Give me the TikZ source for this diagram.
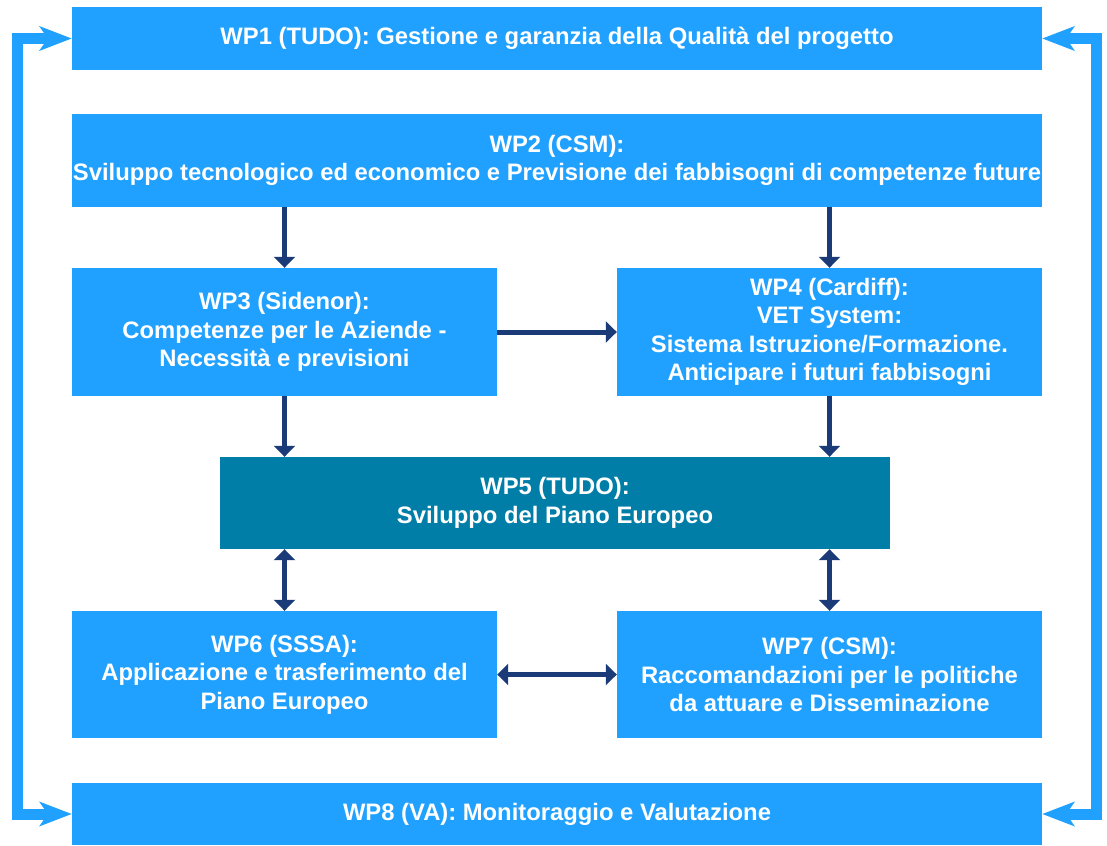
\documentclass[tikz,border=0pt]{standalone}
\usepackage{fontspec}
\setmainfont{Liberation Sans}
\usetikzlibrary{arrows.meta}
\definecolor{wpblue}{RGB}{33,161,255}
\definecolor{wpteal}{RGB}{0,126,167}
\definecolor{wpnavy}{RGB}{26,58,120}
\begin{document}
\begin{tikzpicture}[x=1pt,y=-1pt,
    wpbox/.style={fill=wpblue,text=white,align=center,inner sep=0pt,font=\fontsize{23.8}{28.5}\selectfont\bfseries},
    flow/.style={-{Triangle[length=11pt,width=21pt]},line width=5pt,wpnavy},
    both/.style={{Triangle[length=11pt,width=21pt]}-{Triangle[length=11pt,width=21pt]},line width=5pt,wpnavy},
    rail/.style={{Stealth[length=32pt,width=24pt,inset=8pt]}-{Stealth[length=32pt,width=24pt,inset=8pt]},line width=11pt,wpblue}]
    \useasboundingbox (0,0) rectangle (1107,845);

    \node[wpbox,minimum width=970pt,minimum height=63pt] (wpone) at (557,38.5) {WP1 (TUDO): Gestione e garanzia della Qualità del progetto};
    \node[wpbox,minimum width=970pt,minimum height=93pt] (wptwo) at (557,160.5) {WP2 (CSM):\\Sviluppo tecnologico ed economico e Previsione dei fabbisogni di competenze future};

    \node[wpbox,minimum width=425pt,minimum height=128pt] (wpthree) at (284.5,332) {WP3 (Sidenor):\\Competenze per le Aziende -\\Necessità e previsioni};
    \node[wpbox,minimum width=425pt,minimum height=128pt] (wpfour) at (829.5,332) {WP4 (Cardiff):\\VET System:\\Sistema Istruzione/Formazione.\\Anticipare i futuri fabbisogni};

    \node[wpbox,fill=wpteal,minimum width=670pt,minimum height=92pt] (wpfive) at (555,503) {WP5 (TUDO):\\Sviluppo del Piano Europeo};

    \node[wpbox,minimum width=425pt,minimum height=127pt] (wpsix) at (284.5,674.5) {WP6 (SSSA):\\Applicazione e trasferimento del\\Piano Europeo};
    \node[wpbox,minimum width=425pt,minimum height=127pt] (wpseven) at (829.5,674.5) {WP7 (CSM):\\Raccomandazioni per le politiche\\da attuare e Disseminazione};

    \node[wpbox,minimum width=970pt,minimum height=62pt] (wpeight) at (557,814) {WP8 (VA): Monitoraggio e Valutazione};

    \draw[flow] (wptwo.south -| wpthree) -- (wpthree.north);
    \draw[flow] (wptwo.south -| wpfour) -- (wpfour.north);
    \draw[flow] (wpthree.east) -- (wpfour.west);
    \draw[flow] (wpthree.south) -- (wpthree.south |- wpfive.north);
    \draw[flow] (wpfour.south) -- (wpfour.south |- wpfive.north);
    \draw[both] (wpfive.south -| wpsix) -- (wpsix.north);
    \draw[both] (wpfive.south -| wpseven) -- (wpseven.north);
    \draw[both] (wpsix.east) -- (wpseven.west);

    \coordinate (leftrail) at (17.5,0);
    \coordinate (rightrail) at (1096.5,0);
    \draw[rail,line join=miter] (wpone.west) -- (wpone.west -| leftrail) -- (wpeight.west -| leftrail) -- (wpeight.west);
    \draw[rail,line join=miter] (wpone.east) -- (wpone.east -| rightrail) -- (wpeight.east -| rightrail) -- (wpeight.east);

\end{tikzpicture}
\end{document}
